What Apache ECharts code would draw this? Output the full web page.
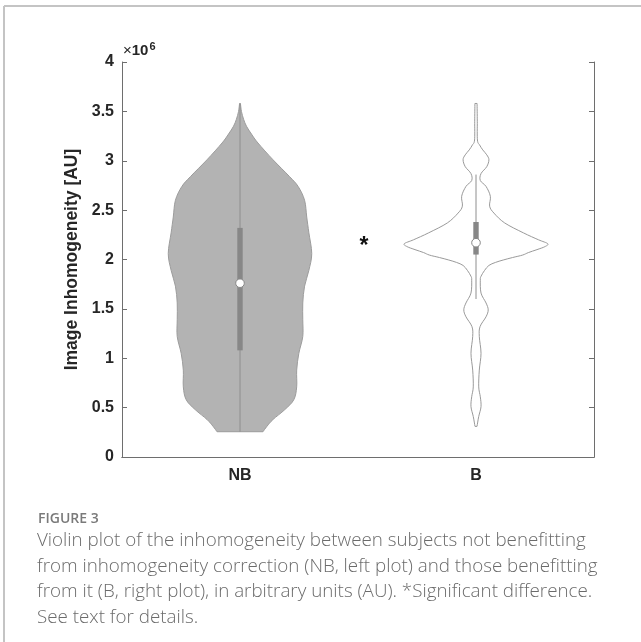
<!DOCTYPE html>
<html><head><meta charset="utf-8">
<script src="https://cdn.jsdelivr.net/npm/echarts@6/dist/echarts.min.js"></script>
<style>html,body{margin:0;padding:0;background:#fff}#c{width:641px;height:642px}</style>
</head><body><div id="c"></div>
<script>
// ---- data (values in units of 10^6 AU) ----
const categories = ['NB', 'B'];
const yTicks = ['0', '0.5', '1', '1.5', '2', '2.5', '3', '3.5', '4'];

// violin profiles: value and relative density (normalised to 1 at the widest point)
const nbY = [3.58, 3.50, 3.42, 3.35, 3.27, 3.18, 3.01, 2.84, 2.74, 2.60, 2.43, 2.27, 2.06, 1.89, 1.73, 1.56, 1.39, 1.22, 1.05, 0.88, 0.71, 0.58, 0.48, 0.38, 0.31, 0.256];
const nbDensity = [0.006, 0.02, 0.05, 0.09, 0.16, 0.25, 0.46, 0.69, 0.81, 0.90, 0.93, 0.96, 1.00, 0.96, 0.90, 0.875, 0.875, 0.875, 0.82, 0.79, 0.79, 0.75, 0.625, 0.46, 0.375, 0.32];

const bY = [3.58, 3.40, 3.21, 3.16, 3.11, 3.06, 3.01, 2.94, 2.87, 2.80, 2.74, 2.64, 2.54, 2.47, 2.37, 2.27, 2.20, 2.16, 2.13, 2.10, 2.07, 2.045, 2.02, 1.995, 1.97, 1.94, 1.89, 1.83, 1.79, 1.66, 1.56, 1.49, 1.42, 1.32, 1.22, 1.05, 0.88, 0.71, 0.61, 0.51, 0.41, 0.31];
const bDensity = [0.015, 0.018, 0.02, 0.05, 0.094, 0.15, 0.18, 0.15, 0.07, 0.06, 0.14, 0.20, 0.19, 0.25, 0.40, 0.66, 0.87, 1.00, 0.96, 0.85, 0.73, 0.65, 0.51, 0.38, 0.27, 0.18, 0.12, 0.07, 0.06, 0.07, 0.14, 0.17, 0.14, 0.056, 0.046, 0.07, 0.046, 0.038, 0.06, 0.07, 0.038, 0.014];

// box-plot statistics per category
const whiskerLow = [0.256, 1.60];
const whiskerHigh = [3.58, 2.86];
const q1 = [1.08, 2.05];
const q3 = [2.32, 2.38];
const medians = [1.76, 2.17];

// significance marker level
const sigLevel = [2.17];

const captionTitle = 'FIGURE 3';
const captionLines = [
  'Violin plot of the inhomogeneity between subjects not benefitting',
  'from inhomogeneity correction (NB, left plot) and those benefitting',
  'from it (B, right plot), in arbitrary units (AU). *Significant difference.',
  'See text for details.'
];

// ---- chart ----
const profY = [nbY, bY];
const profD = [nbDensity, bDensity];
const fills = ['#b3b3b3', 'none'];
const strokes = ['#9c9c9c', '#9a9a9a'];

function catmullPath(pts) {
  let d = '';
  for (let k = 0; k < pts.length - 1; k++) {
    const p0 = pts[Math.max(k - 1, 0)], p1 = pts[k], p2 = pts[k + 1], p3 = pts[Math.min(k + 2, pts.length - 1)];
    const c1 = [p1[0] + (p2[0] - p0[0]) / 6, p1[1] + (p2[1] - p0[1]) / 6];
    const c2 = [p2[0] - (p3[0] - p1[0]) / 6, p2[1] - (p3[1] - p1[1]) / 6];
    d += ' C' + c1[0].toFixed(2) + ' ' + c1[1].toFixed(2) + ' ' + c2[0].toFixed(2) + ' ' + c2[1].toFixed(2) + ' ' + p2[0].toFixed(2) + ' ' + p2[1].toFixed(2);
  }
  return d;
}

function renderViolin(params, api) {
  const i = api.value(0);
  const cx = api.coord([i, 0])[0];
  const band = api.size([1, 0])[0];
  const maxHW = band * 0.304;
  const ys = profY[i], ds = profD[i];
  const right = [], left = [];
  for (let k = 0; k < ys.length; k++) {
    const py = api.coord([i, ys[k]])[1];
    right.push([cx + ds[k] * maxHW, py]);
    left.push([cx - ds[k] * maxHW, py]);
  }
  left.reverse();
  let d = 'M' + right[0][0].toFixed(2) + ' ' + right[0][1].toFixed(2) + catmullPath(right);
  d += ' L' + left[0][0].toFixed(2) + ' ' + left[0][1].toFixed(2) + catmullPath(left) + ' Z';
  const yLo = api.coord([i, whiskerLow[i]])[1];
  const yHi = api.coord([i, whiskerHigh[i]])[1];
  const yQ1 = api.coord([i, q1[i]])[1];
  const yQ3 = api.coord([i, q3[i]])[1];
  const yMed = api.coord([i, medians[i]])[1];
  return {
    type: 'group',
    children: [
      { type: 'path', shape: { pathData: d }, style: { fill: fills[i], stroke: strokes[i], lineWidth: 1 } },
      { type: 'line', shape: { x1: cx, y1: yHi, x2: cx, y2: yLo }, style: { stroke: '#8e8e8e', lineWidth: 1 } },
      { type: 'rect', shape: { x: cx - 2.7, y: yQ3, width: 5.4, height: yQ1 - yQ3 }, style: { fill: '#878787' } },
      { type: 'circle', shape: { cx: cx, cy: yMed, r: 4.3 }, style: { fill: '#ffffff', stroke: '#878787', lineWidth: 1 } }
    ]
  };
}

const chart = echarts.init(document.getElementById('c'), null, { renderer: 'canvas' });
const axisColor = '#6e6e6e';
const FONT = '"Liberation Sans", Arial, sans-serif';
const tickFont = { fontFamily: FONT, fontWeight: 'bold', fontSize: 16, color: '#262626' };

const baseGraphic = [
  { type: 'line', shape: { x1: 4, y1: 6, x2: 641, y2: 6 }, style: { stroke: '#c4c4c4', lineWidth: 2 } },
  { type: 'line', shape: { x1: 4, y1: 6, x2: 4, y2: 642 }, style: { stroke: '#c4c4c4', lineWidth: 2 } },
  { type: 'text', left: 123, top: 41, style: {
      text: '{x|×}{t|10}{s|6}',
      rich: {
        x: { fontFamily: FONT, fontSize: 15, fill: '#262626' },
        t: { fontFamily: FONT, fontSize: 15, fontWeight: 'bold', fill: '#262626' },
        s: { fontFamily: FONT, fontSize: 11, fontWeight: 'bold', fill: '#262626', verticalAlign: 'top', padding: [0, 0, 9, 1] }
      }
  } },
  { type: 'text', left: 38, top: 512, style: { text: captionTitle, fontFamily: '"Open Sans", sans-serif', fontSize: 14, fontWeight: 600, fill: '#7a7a7a' } }
];
captionLines.forEach((t, k) => {
  baseGraphic.push({ type: 'text', left: 37, top: 531 + k * 25.7, style: { text: t, fontFamily: '"Open Sans", sans-serif', fontSize: 18.8, fontWeight: 300, fill: '#6b6b6b' } });
});

const option = {
  animation: false,
  backgroundColor: '#ffffff',
  grid: { left: 122, right: 47, top: 62, bottom: 185, containLabel: false },
  xAxis: [
    { type: 'category', data: categories, position: 'bottom',
      axisLine: { lineStyle: { color: axisColor, width: 1 } },
      axisTick: { inside: true, length: 5, alignWithLabel: true, lineStyle: { color: axisColor } },
      axisLabel: Object.assign({ margin: 11 }, tickFont),
      splitLine: { show: false } },
    { type: 'category', data: categories, position: 'top',
      axisLine: { lineStyle: { color: axisColor, width: 1 } },
      axisTick: { inside: true, length: 5, alignWithLabel: true, lineStyle: { color: axisColor } },
      axisLabel: { show: false }, splitLine: { show: false } }
  ],
  yAxis: [
    { type: 'value', min: 0, max: 4, interval: 0.5, position: 'left',
      name: 'Image Inhomogeneity [AU]', nameLocation: 'middle', nameGap: 32,
      nameTextStyle: Object.assign({}, tickFont, { fontSize: 17.5 }),
      axisLine: { show: true, lineStyle: { color: axisColor, width: 1 } },
      axisTick: { show: true, inside: true, length: 5, lineStyle: { color: axisColor } },
      axisLabel: Object.assign({ margin: 8, formatter: (v) => yTicks[Math.round(v * 2)] }, tickFont),
      splitLine: { show: false } },
    { type: 'value', min: 0, max: 4, interval: 0.5, position: 'right',
      axisLine: { show: true, lineStyle: { color: axisColor, width: 1 } },
      axisTick: { show: true, inside: true, length: 5, lineStyle: { color: axisColor } },
      axisLabel: { show: false }, splitLine: { show: false } }
  ],
  series: [{
    type: 'custom',
    xAxisIndex: 0, yAxisIndex: 0,
    renderItem: renderViolin,
    data: categories.map((c, i) => [i]),
    encode: { x: 0 },
    silent: true,
    clip: false
  }],
  graphic: baseGraphic
};
chart.setOption(option);

// significance asterisk between the two categories
const pA = chart.convertToPixel({ xAxisIndex: 0, yAxisIndex: 0 }, [0, sigLevel[0]]);
const pB = chart.convertToPixel({ xAxisIndex: 0, yAxisIndex: 0 }, [1, sigLevel[0]]);
chart.setOption({ graphic: baseGraphic.concat([{
  type: 'text', x: (pA[0] + pB[0]) / 2 + 6, y: pA[1] + 4,
  style: { text: '*', fontFamily: FONT, fontSize: 23, fontWeight: 'bold', fill: '#111', align: 'center', verticalAlign: 'middle' }
}]) });
</script></body></html>
